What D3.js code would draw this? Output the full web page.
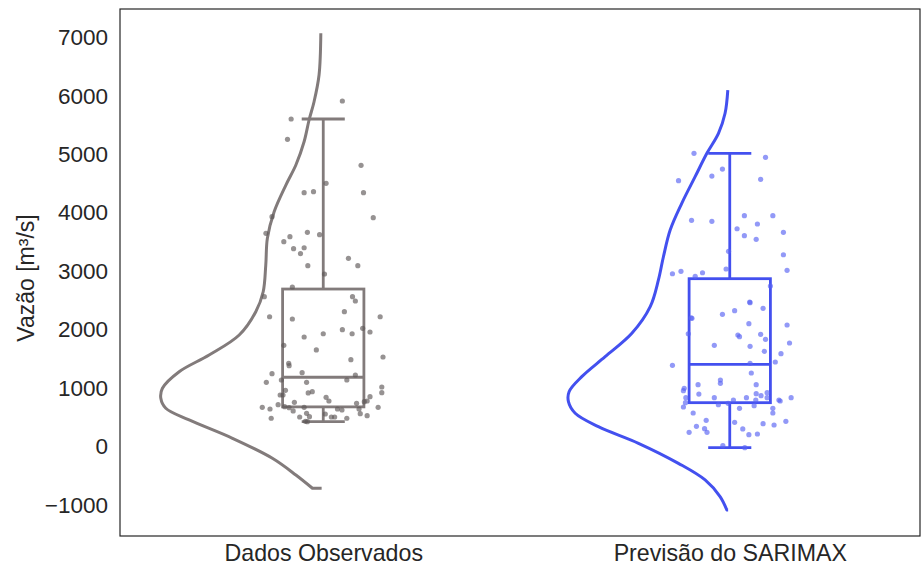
<!DOCTYPE html>
<html>
<head>
<meta charset="utf-8">
<script src="https://cdn.jsdelivr.net/npm/d3@7/dist/d3.min.js"></script>
<style>
  html, body { margin: 0; padding: 0; background: #ffffff; }
  svg { display: block; }
  text { font-family: "Liberation Sans", Arial, Helvetica, sans-serif; }
</style>
</head>
<body>
<svg id="chart" width="922" height="571"></svg>
<script>
// Categories and tick labels
const categories = ["Dados Observados", "Previsão do SARIMAX"];
const yTicks = [-1000, 0, 1000, 2000, 3000, 4000, 5000, 6000, 7000];

// Observed flow values (m³/s) and their horizontal strip jitter (category units)
const obsValues = [
  5913, 5605, 5257, 4812, 4504, 4344, 4361, 4344, 3933, 3916,
  3649, 3666, 3625, 3591, 3505, 3385, 3402, 3300, 3094, 3221,
  3094, 2952, 2730, 2564, 2564, 2490, 2221, 2182, 2221, 2307,
  1874, 1930, 1999, 1930, 2023, 1960, 1732, 1652, 1532, 1486,
  1424, 1383, 1246, 1263, 1224, 1099, 1138, 1099, 1138, 1018,
  921, 962, 916, 938, 881, 881, 842, 779, 852, 779,
  767, 739, 756, 715, 671, 642, 681, 664, 608, 671,
  642, 625, 642, 561, 527, 671, 483, 505, 568, 510,
  430, 424, 556, 505, 505, 483
];
const obsJitter = [
  0.047, -0.079, -0.088, 0.093, 0.007, -0.047, -0.024, 0.099, -0.126, 0.123,
  -0.141, -0.039, -0.009, -0.082, -0.097, -0.073, -0.047, -0.056, -0.038, 0.062,
  0.085, 0.003, -0.076, -0.145, 0.072, 0.079, -0.132, -0.076, 0.140, 0.052,
  -0.047, 0.000, 0.047, 0.071, 0.097, 0.115, -0.097, -0.017, 0.147, 0.068,
  -0.085, -0.084, -0.126, -0.052, 0.079, -0.140, -0.103, -0.041, 0.058, 0.144,
  0.144, -0.093, -0.037, -0.027, -0.106, -0.099, 0.007, 0.014, 0.115, 0.108,
  0.101, 0.082, -0.071, -0.111, -0.150, -0.131, -0.095, -0.084, -0.074, -0.047,
  0.035, 0.046, 0.088, 0.091, 0.108, 0.135, -0.128, -0.058, -0.041, -0.034,
  -0.044, -0.039, 0.005, 0.020, 0.028, 0.058
];

// SARIMAX forecast values (m³/s) and their strip jitter
const sarValues = [
  5018, 4949, 4749, 4629, 4549, 4573, 3871, 3854, 3950, 3950,
  3808, 3727, 3608, 3546, 3666, 3341, 3282, 3015, 2957, 2998,
  2913, 2974, 3038, 2747, 2461, 2473, 2262, 2324, 2365, 2194,
  2200, 2102, 2079, 1930, 1908, 1879, 1920, 1835, 1771, 1732,
  1715, 1629, 1588, 1446, 1390, 1424, 1258, 1058, 1138, 1082,
  1058, 996, 955, 898, 835, 835, 796, 835, 904, 796,
  869, 921, 835, 796, 779, 835, 750, 676, 715, 739,
  654, 698, 654, 573, 573, 448, 414, 390, 368, 431,
  346, 305, 243, 243, 300, 202, 214, 14, -21
];
const sarJitter = [
  -0.088, 0.088, -0.018, -0.044, -0.126, 0.076, -0.094, -0.044, 0.036, 0.106,
  0.068, 0.018, 0.036, 0.065, 0.132, -0.003, 0.132, 0.141, -0.141, -0.120,
  -0.085, -0.067, -0.009, 0.100, 0.050, 0.049, -0.018, 0.012, 0.082, -0.093,
  -0.095, 0.047, 0.141, -0.102, 0.020, 0.024, 0.076, 0.088, 0.147, -0.038,
  0.050, 0.085, 0.126, 0.112, -0.141, 0.050, 0.053, -0.078, -0.023, -0.023,
  0.065, -0.112, -0.114, -0.076, -0.108, -0.038, 0.009, 0.041, 0.065, 0.064,
  0.077, 0.092, 0.092, 0.121, 0.124, 0.151, -0.109, -0.114, -0.028, -0.004,
  0.024, 0.060, 0.106, 0.106, -0.090, -0.058, 0.012, 0.082, 0.109, 0.138,
  -0.082, -0.062, -0.056, -0.100, 0.032, 0.047, 0.068, -0.017, 0.037
];

// Box-plot summaries per category
const boxLow    = [424, -21];
const boxQ1     = [678, 750];
const boxMedian = [1185, 1407];
const boxQ3     = [2695, 2872];
const boxHigh   = [5605, 5018];

// Half-violin density outlines: flow value and relative density (1 = widest)
const obsDensityValue = [7072, 6358, 5901, 5588, 5216, 4818, 4475, 4018, 3563, 3106, 2649, 2307,
  1908, 1566, 1280, 996, 825, 654, 454, 140, -202, -488, -715];
const obsDensity = [0.005, 0.016, 0.047, 0.078, 0.109, 0.160, 0.222, 0.295, 0.337, 0.347, 0.363, 0.409,
  0.512, 0.699, 0.885, 0.989, 0.999, 0.968, 0.823, 0.554, 0.306, 0.160, 0.057];
const sarDensityValue = [6101, 5703, 5360, 5018, 4618, 4162, 3705, 3248, 2850, 2393, 1937,
  1537, 1195, 938, 767, 568, 339, 55, -288, -573, -859, -1087];
const sarDensity = [0.002, 0.019, 0.060, 0.132, 0.205, 0.288, 0.360, 0.402, 0.433, 0.484, 0.598,
  0.764, 0.909, 0.988, 0.992, 0.950, 0.806, 0.557, 0.309, 0.143, 0.050, 0.008];

const colors = ["#827b7b", "#4350ef"];
const pointColors = ["#5e5858", "#5862f2"];

// Layout
const plot = { left: 120, top: 9, right: 920, bottom: 536 };

const svg = d3.select("#chart");

const x = d3.scaleLinear().domain([-0.5, 1.468]).range([plot.left, plot.right]);
const y = d3.scaleLinear().domain([-1532, 7488]).range([plot.bottom, plot.top]);
const violinWidth = d3.scaleLinear().domain([0, 1]).range([0, 0.396]);
const violinShift = -0.004;
const boxHalf = 0.1, capHalf = 0.053;

const groups = [
  { values: obsValues, jitter: obsJitter, dv: obsDensityValue, d: obsDensity },
  { values: sarValues, jitter: sarJitter, dv: sarDensityValue, d: sarDensity }
];

// Half violins (open outline on the left of each box)
const violinLine = d3.line()
  .x(p => p[0])
  .y(p => p[1])
  .curve(d3.curveCatmullRom.alpha(0.5));

groups.forEach((g, i) => {
  const base = i + violinShift;
  const pts = g.dv.map((v, k) => [x(base - violinWidth(g.d[k])), y(v)]);
  const last = g.dv[g.dv.length - 1];
  svg.append("path")
    .attr("d", violinLine(pts) + `L${x(base)},${y(last)}`)
    .attr("fill", "none")
    .attr("stroke", colors[i])
    .attr("stroke-width", 3)
    .attr("stroke-linejoin", "round");
});

// Boxes and whiskers
categories.forEach((c, i) => {
  const gBox = svg.append("g")
    .attr("stroke", colors[i])
    .attr("stroke-width", 2.8)
    .attr("fill", "none");
  gBox.append("line")
    .attr("x1", x(i)).attr("x2", x(i))
    .attr("y1", y(boxQ3[i])).attr("y2", y(boxHigh[i]));
  gBox.append("line")
    .attr("x1", x(i)).attr("x2", x(i))
    .attr("y1", y(boxQ1[i])).attr("y2", y(boxLow[i]));
  gBox.append("line")
    .attr("x1", x(i - capHalf)).attr("x2", x(i + capHalf))
    .attr("y1", y(boxHigh[i])).attr("y2", y(boxHigh[i]));
  gBox.append("line")
    .attr("x1", x(i - capHalf)).attr("x2", x(i + capHalf))
    .attr("y1", y(boxLow[i])).attr("y2", y(boxLow[i]));
  gBox.append("rect")
    .attr("x", x(i - boxHalf))
    .attr("y", y(boxQ3[i]))
    .attr("width", x(i + boxHalf) - x(i - boxHalf))
    .attr("height", y(boxQ1[i]) - y(boxQ3[i]));
  gBox.append("line")
    .attr("x1", x(i - boxHalf)).attr("x2", x(i + boxHalf))
    .attr("y1", y(boxMedian[i])).attr("y2", y(boxMedian[i]));
});

// Jittered strip points
groups.forEach((g, i) => {
  svg.append("g")
    .selectAll("circle")
    .data(g.values.map((v, k) => ({ v, j: g.jitter[k] })))
    .join("circle")
    .attr("cx", d => x(i + d.j))
    .attr("cy", d => y(d.v))
    .attr("r", 2.6)
    .attr("fill", pointColors[i])
    .attr("fill-opacity", 0.65);
});

// Axes
const yAxis = svg.append("g")
  .attr("transform", `translate(${plot.left},0)`)
  .call(d3.axisLeft(y).tickValues(yTicks).tickSize(0).tickPadding(12).tickFormat(d3.format("d")));
yAxis.select(".domain").remove();
yAxis.selectAll("text")
  .attr("font-size", 22.5)
  .attr("fill", "#262626")
  .style("font-family", "'Liberation Sans', Arial, sans-serif");

const xAxis = svg.append("g")
  .attr("transform", `translate(0,${plot.bottom})`)
  .call(d3.axisBottom(x).tickValues([0, 1]).tickSize(0).tickPadding(9).tickFormat(i => categories[i]));
xAxis.select(".domain").remove();
xAxis.selectAll("text")
  .attr("font-size", 23.2)
  .attr("fill", "#262626")
  .style("font-family", "'Liberation Sans', Arial, sans-serif");

// Frame
svg.append("rect")
  .attr("x", plot.left)
  .attr("y", plot.top)
  .attr("width", plot.right - plot.left)
  .attr("height", plot.bottom - plot.top)
  .attr("fill", "none")
  .attr("stroke", "#262626")
  .attr("stroke-width", 1.2);

// Y axis title
svg.append("text")
  .attr("transform", `translate(26,278) rotate(-90)`)
  .attr("text-anchor", "middle")
  .attr("dominant-baseline", "central")
  .attr("font-size", 23)
  .attr("fill", "#262626")
  .text("Vazão [m³/s]");
</script>
</body>
</html>
